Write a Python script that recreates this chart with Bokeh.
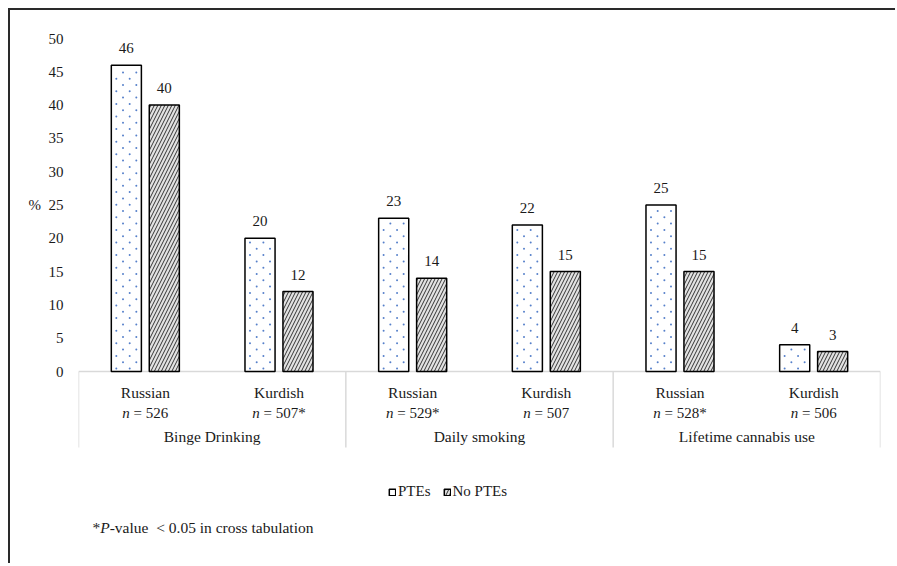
from bokeh.plotting import figure
from bokeh.models import Range1d, FixedTicker, Legend, LegendItem, ColumnDataSource
from bokeh.embed import file_html
from bokeh.resources import INLINE
from bokeh.core.properties import value

# ---------------- data ----------------
groups = ["Binge Drinking", "Daily smoking", "Lifetime cannabis use"]
subgroups = ["Russian", "Kurdish", "Russian", "Kurdish", "Russian", "Kurdish"]
n_values = ["526", "507*", "529*", "507", "528*", "506"]
ptes = [46, 20, 23, 22, 25, 4]
no_ptes = [40, 12, 14, 15, 15, 3]
series_names = ["PTEs", "No PTEs"]
y_ticks = [0, 5, 10, 15, 20, 25, 30, 35, 40, 45, 50]
y_label = "%"
y_label_at = 25
footnote = ["*", "P", "-value\u00a0 < 0.05 in cross tabulation"]

# ---------------- style ----------------
FONT = "Liberation Serif"
FS = "15px"
FSW = "15.5px"
TXT = "#1a1a1a"
PX_PER_UNIT = 6.66          # vertical pixels per percent
FRAME_H = 538
FRAME_W = 802
ZERO_FROM_TOP = 353

y_top = ZERO_FROM_TOP / PX_PER_UNIT
y_bot = -(FRAME_H - ZERO_FROM_TOP) / PX_PER_UNIT
px_x = FRAME_W / len(subgroups)

def py(px):  # vertical pixel distance below the zero line -> data units
    return -px / PX_PER_UNIT


p = figure(width=887, height=555, output_backend="svg", toolbar_location=None,
           x_range=Range1d(0, len(subgroups)), y_range=Range1d(y_bot, y_top),
           min_border_left=68, min_border_right=17, min_border_top=8, min_border_bottom=9)
p.styles = {"margin-left": "8px", "margin-top": "8px",
            "border-top": "2px solid #2a2a2a", "border-left": "2px solid #2a2a2a"}
p.outline_line_color = None
p.xgrid.visible = False
p.ygrid.visible = False
p.xaxis.visible = False
p.yaxis.ticker = FixedTicker(ticks=y_ticks)
p.yaxis.major_label_overrides = {y_label_at: y_label + "\u00a0\u00a0" + str(y_label_at)}
p.yaxis.axis_line_color = None
p.yaxis.major_tick_line_color = None
p.yaxis.minor_tick_line_color = None
p.yaxis.major_label_standoff = 9
p.yaxis.major_label_text_font = FONT
p.yaxis.major_label_text_font_size = FS
p.yaxis.major_label_text_color = TXT

centers = [i + 0.5 for i in range(len(subgroups))]
off = 0.142
bw = 0.225
src = ColumnDataSource(dict(
    x1=[c - off for c in centers], x2=[c + off for c in centers],
    ptes=ptes, no_ptes=no_ptes,
    t1=[str(v) for v in ptes], t2=[str(v) for v in no_ptes]))

# axis baseline and category separators
p.segment(x0=[0], y0=[0], x1=[len(subgroups)], y1=[0], line_color="#d9d9d9", line_width=1.5)
sep_x = list(range(0, len(subgroups) + 1, 2))
p.segment(x0=sep_x, y0=[0] * len(sep_x), x1=sep_x, y1=[py(76)] * len(sep_x),
          line_color="#d9d9d9", line_width=1.5)

r1 = p.vbar(x="x1", top="ptes", bottom=0, width=bw, source=src,
            fill_color="white", line_color="black", line_width=1.5)

# dotted fill texture of the PTEs bars (staggered tiny blue dots, derived from bar geometry)
dx_rows = [[5.0, 18.4], [11.7, 25.0]]    # pixel offsets from the bar's left edge
row_gap = 6.3                             # pixels between dot rows
dot_x, dot_y = [], []
for xc, top in zip(src.data["x1"], ptes):
    left = xc - bw / 2
    k = 0
    while True:
        ypx = 3.0 + k * row_gap
        if ypx > top * PX_PER_UNIT - 2.5:
            break
        for ox in dx_rows[k % 2]:
            dot_x.append(left + ox / px_x)
            dot_y.append(ypx / PX_PER_UNIT)
        k += 1
p.scatter(x=dot_x, y=dot_y, marker="circle", size=2.0, fill_color="#4472C4",
          line_color=None, fill_alpha=0.9)

r2 = p.vbar(x="x2", top="no_ptes", bottom=0, width=bw, source=src,
            fill_color="#e2e2e2", line_color="black", line_width=1.5,
            hatch_pattern="right_diagonal_line", hatch_color="#333333", hatch_scale=7, hatch_weight=1)

common = dict(text_font=value(FONT), text_font_size=FS, text_color=TXT)
wcommon = dict(text_font=value(FONT), text_font_size=FSW, text_color=TXT)
p.text(x="x1", y="ptes", text="t1", source=src, text_align="center",
       text_baseline="middle", y_offset=-17, **common)
p.text(x="x2", y="no_ptes", text="t2", source=src, text_align="center",
       text_baseline="middle", y_offset=-17, **common)

# category labels
p.text(x=centers, y=[py(21)] * len(centers), text=subgroups, text_align="center",
       text_baseline="middle", **wcommon)

# n = ... labels (italic n)
em = 15.0
w = {"n": 0.5, "=": 0.564, " ": 0.25, "*": 0.5}
rest = ["= " + v for v in n_values]
totals = [em * (w["n"] + w[" "] + sum(w.get(ch, 0.5) for ch in r)) for r in rest]
p.text(x=centers, y=[py(41)] * len(centers), text=["n"] * len(centers),
       x_offset=[-t / 2 for t in totals], text_align="left", text_baseline="middle",
       text_font_style="italic", **common)
p.text(x=centers, y=[py(41)] * len(centers), text=rest,
       x_offset=[-t / 2 + em * (w["n"] + w[" "]) for t in totals], text_align="left",
       text_baseline="middle", **common)

# group labels
gcent = [2 * i + 1 for i in range(len(groups))]
p.text(x=gcent, y=[py(65)] * len(gcent), text=groups, text_align="center",
       text_baseline="middle", **wcommon)

# footnote
fx = 14 / px_x
fy = py(156)
fcommon = dict(text_font=value(FONT), text_font_size="15.5px", text_color=TXT,
               text_align="left", text_baseline="middle")
p.text(x=[fx], y=[fy], text=[footnote[0]], **fcommon)
p.text(x=[fx], y=[fy], text=[footnote[1]], x_offset=7.7, text_font_style="italic", **fcommon)
p.text(x=[fx], y=[fy], text=[footnote[2]], x_offset=17.2, **fcommon)

legend = Legend(items=[LegendItem(label=series_names[0], renderers=[r1]),
                       LegendItem(label=series_names[1], renderers=[r2])],
                orientation="horizontal", location=(310, 56),
                border_line_color=None, background_fill_alpha=0,
                glyph_width=8, glyph_height=8, label_standoff=2, spacing=12,
                padding=0, margin=0, label_text_font=FONT, label_text_font_size=FS,
                label_text_color=TXT)
p.add_layout(legend)

open("out.html", "w").write(file_html(p, INLINE))
